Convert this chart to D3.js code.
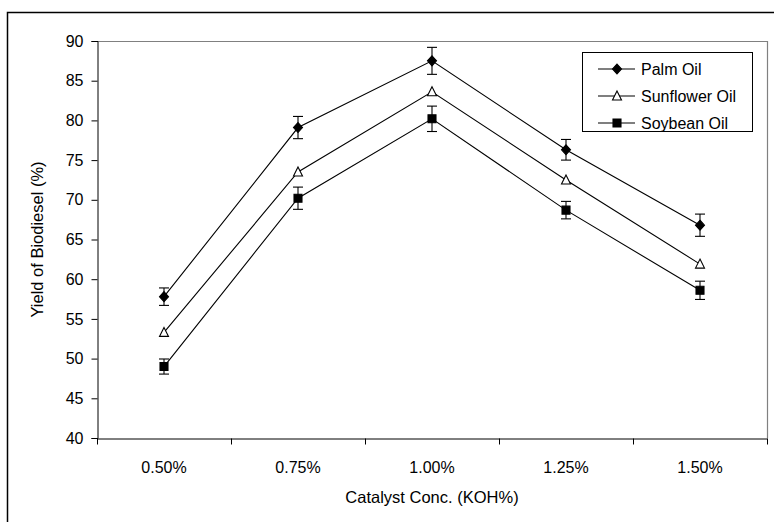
<!DOCTYPE html>
<html>
<head>
<meta charset="utf-8">
<script src="https://cdn.jsdelivr.net/npm/d3@7"></script>
<style>
    body { margin: 0; background: #fff; }
    svg text { font-family: "Liberation Sans", Arial, sans-serif; fill: #000; }
</style>
</head>
<body>
<svg class="chart" width="774" height="522"></svg>
<script>
// categories on the x axis
var concLabels = ["0.50%", "0.75%", "1.00%", "1.25%", "1.50%"];
var yTicks = [40, 45, 50, 55, 60, 65, 70, 75, 80, 85, 90];

// yields (%)
var palmYield = [57.8, 79.1, 87.5, 76.3, 66.8];
var palmErr = [1.1, 1.4, 1.7, 1.3, 1.4];
var sunflowerYield = [53.3, 73.5, 83.6, 72.5, 61.9];
var sunflowerErr = [0, 0, 0, 0, 0];
var soybeanYield = [49.0, 70.2, 80.2, 68.7, 58.6];
var soybeanErr = [0.95, 1.4, 1.6, 1.1, 1.15];

var seriesNames = ["Palm Oil", "Sunflower Oil", "Soybean Oil"];

function makeChart() {
    var svg = d3.select(".chart");

    var left = 97, right = 767, top = 41, bottom = 438;

    // outer frame (runs off the right and bottom edges)
    svg.append("rect")
        .attr("x", 7.5).attr("y", 12.5)
        .attr("width", 800).attr("height", 600)
        .attr("fill", "none").attr("stroke", "#000").attr("stroke-width", 1.5);

    var xScale = d3.scaleBand()
        .domain(concLabels)
        .range([left, right]);

    var yScale = d3.scaleLinear()
        .domain([40, 90])
        .range([bottom, top]);

    // plot area border, grey on top and right
    svg.append("path")
        .attr("d", "M" + left + "," + (top + 0.5) + "H" + (right + 0.5) + "V" + bottom)
        .attr("fill", "none").attr("stroke", "#808080").attr("stroke-width", 1.2);

    //y axis
    var yAxis = d3.axisLeft(yScale).tickValues(yTicks).tickSize(6).tickPadding(8);
    var gy = svg.append("g").attr("transform", "translate(" + (left + 0.5) + ",0)").call(yAxis);
    gy.selectAll("text").style("font-size", "16px");

    //x axis, ticks between the categories
    var xAxis = d3.axisBottom(xScale).tickSize(0).tickPadding(23);
    var gx = svg.append("g").attr("transform", "translate(0," + (bottom + 0.5) + ")").call(xAxis);
    gx.selectAll("text").style("font-size", "16px");
    var edges = concLabels.map(function(d) { return xScale(d); }).concat([right]);
    gx.selectAll(".edge").data(edges).enter().append("line")
        .attr("class", "edge")
        .attr("x1", function(d) { return d + 0.5; })
        .attr("x2", function(d) { return d + 0.5; })
        .attr("y1", 0).attr("y2", 6)
        .attr("stroke", "#000");
    gy.selectAll("path, line").attr("stroke", "#000");
    gx.select(".domain").attr("stroke", "#000");

    // axis titles
    svg.append("text")
        .attr("x", (left + right) / 2).attr("y", 503)
        .attr("text-anchor", "middle")
        .style("font-size", "16.5px")
        .text("Catalyst Conc. (KOH%)");
    svg.append("text")
        .attr("transform", "translate(43," + ((top + bottom) / 2) + ") rotate(-90)")
        .attr("text-anchor", "middle")
        .style("font-size", "16.5px")
        .text("Yield of Biodiesel (%)");

    var series = [
        { name: seriesNames[0], values: palmYield, err: palmErr, shape: "diamond" },
        { name: seriesNames[1], values: sunflowerYield, err: sunflowerErr, shape: "triangle" },
        { name: seriesNames[2], values: soybeanYield, err: soybeanErr, shape: "square" }
    ];

    var line = d3.line()
        .x(function(d, i) { return xScale(concLabels[i]) + xScale.bandwidth() / 2; })
        .y(function(d) { return yScale(d); });

    for (var s = 0; s < series.length; s++) {
        var ser = series[s];
        var g = svg.append("g").attr("class", "series" + s);

        g.append("path")
            .attr("d", line(ser.values))
            .attr("fill", "none").attr("stroke", "#000").attr("stroke-width", 1.1);

        // error bars
        var pts = ser.values.map(function(v, i) {
            return { x: xScale(concLabels[i]) + xScale.bandwidth() / 2, v: v, e: ser.err[i] };
        }).filter(function(p) { return p.e > 0; });
        var eb = g.selectAll(".err").data(pts).enter().append("g").attr("class", "err");
        eb.append("line")
            .attr("x1", function(d) { return d.x; }).attr("x2", function(d) { return d.x; })
            .attr("y1", function(d) { return yScale(d.v + d.e); })
            .attr("y2", function(d) { return yScale(d.v - d.e); })
            .attr("stroke", "#000").attr("stroke-width", 1.1);
        eb.append("line")
            .attr("x1", function(d) { return d.x - 5; }).attr("x2", function(d) { return d.x + 5; })
            .attr("y1", function(d) { return yScale(d.v + d.e); })
            .attr("y2", function(d) { return yScale(d.v + d.e); })
            .attr("stroke", "#000").attr("stroke-width", 1.1);
        eb.append("line")
            .attr("x1", function(d) { return d.x - 5; }).attr("x2", function(d) { return d.x + 5; })
            .attr("y1", function(d) { return yScale(d.v - d.e); })
            .attr("y2", function(d) { return yScale(d.v - d.e); })
            .attr("stroke", "#000").attr("stroke-width", 1.1);

        // markers
        g.selectAll(".mark").data(ser.values).enter().append("path")
            .attr("class", "mark")
            .attr("d", markerPath(ser.shape))
            .attr("transform", function(d, i) {
                return "translate(" + (xScale(concLabels[i]) + xScale.bandwidth() / 2) + "," + yScale(d) + ")";
            })
            .attr("fill", ser.shape == "triangle" ? "#fff" : "#000")
            .attr("stroke", "#000").attr("stroke-width", 1.1);
    }

    // legend
    var legend = svg.append("g").attr("class", "legend");
    legend.append("rect")
        .attr("x", 582.5).attr("y", 52.5)
        .attr("width", 170).attr("height", 79)
        .attr("fill", "#fff").attr("stroke", "#000").attr("stroke-width", 1);
    for (var k = 0; k < series.length; k++) {
        var ly = 69 + k * 27;
        legend.append("line")
            .attr("x1", 598).attr("x2", 635).attr("y1", ly).attr("y2", ly)
            .attr("stroke", "#000").attr("stroke-width", 1.1);
        legend.append("path")
            .attr("d", markerPath(series[k].shape))
            .attr("transform", "translate(617," + ly + ")")
            .attr("fill", series[k].shape == "triangle" ? "#fff" : "#000")
            .attr("stroke", "#000").attr("stroke-width", 1.1);
        legend.append("text")
            .attr("x", 641).attr("y", ly + 6)
            .style("font-size", "16px")
            .text(series[k].name);
    }
}

function markerPath(shape) {
    if (shape == "diamond") return "M0,-5L4.5,0L0,5L-4.5,0Z";
    if (shape == "triangle") return "M0,-5L4.5,4L-4.5,4Z";
    return "M-4,-4H4V4H-4Z";
}

makeChart();
</script>
</body>
</html>
